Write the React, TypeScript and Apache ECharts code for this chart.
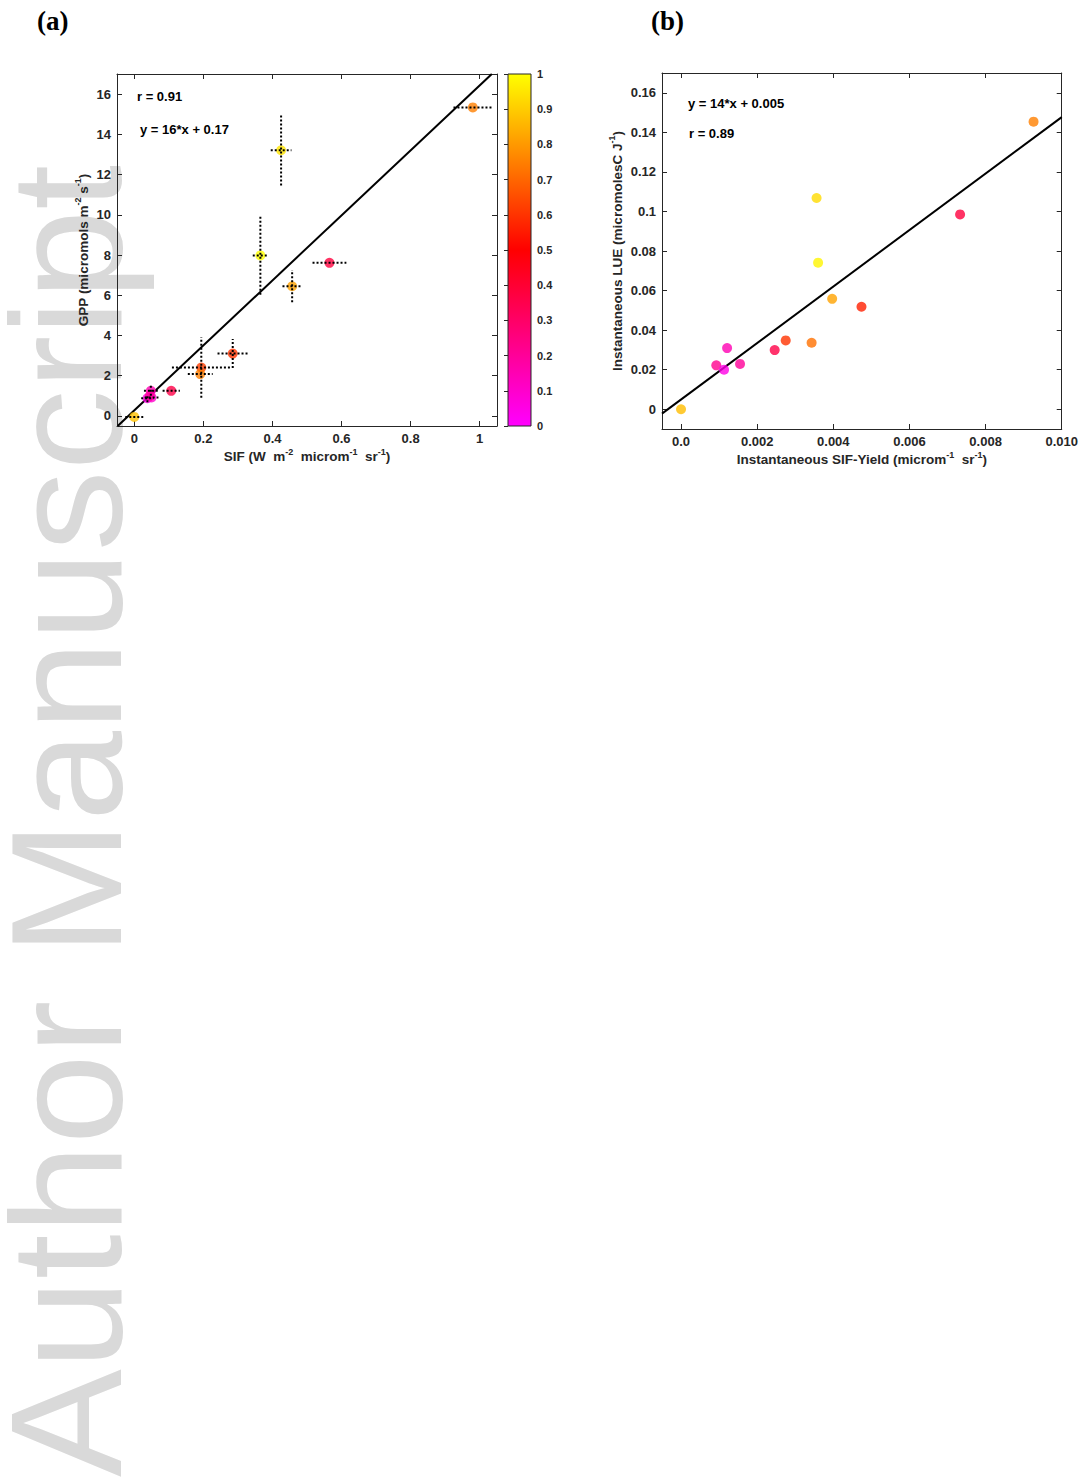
import React, { useEffect, useRef } from "react";
import * as echarts from "echarts";

// ---------- Panel (a): SIF vs GPP ----------
const sifA = [0.0, 0.048, 0.038, 0.05, 0.045, 0.107, 0.194, 0.191, 0.285, 0.365, 0.425, 0.457, 0.565, 0.98];
const gppA = [-0.05, 1.25, 0.88, 0.92, 1.0, 1.25, 2.41, 2.08, 3.1, 7.98, 13.21, 6.45, 7.61, 15.34];
const colorA = [0.88, 0.15, 0.05, 0.1, 0.2, 0.36, 0.62, 0.75, 0.6, 1.0, 0.95, 0.82, 0.38, 0.75];
const sifErrA = [0.026, 0.02, 0.018, 0.02, 0.0, 0.025, 0.085, 0.036, 0.044, 0.022, 0.03, 0.028, 0.049, 0.056];
const gppErrA = [0.0, 0.25, 0.2, 0.0, 0.0, 0.0, 1.5, 0.0, 0.72, 1.95, 1.75, 0.8, 0.0, 0.0];
const fitA = [[-0.048, -0.5], [1.035, 17]];
const xTicksA = [0, 0.2, 0.4, 0.6, 0.8, 1];
const yTicksA = [0, 2, 4, 6, 8, 10, 12, 14, 16];

// ---------- Panel (b): SIF-Yield vs LUE ----------
const yieldB = [0.0, 0.000926, 0.00113, 0.00121, 0.00155, 0.00246, 0.00275, 0.00343, 0.0036, 0.00356, 0.00397, 0.00474, 0.00733, 0.00926];
const lueB = [0.0, 0.0222, 0.02, 0.0309, 0.0229, 0.0299, 0.0348, 0.0336, 0.0741, 0.1068, 0.0558, 0.0518, 0.0985, 0.1454];
const colorB = [0.87, 0.22, 0.05, 0.15, 0.2, 0.36, 0.6, 0.72, 0.98, 0.93, 0.82, 0.56, 0.38, 0.75];
const fitB = [[-0.0005, -0.0022], [0.01, 0.1477]];
const xTicksB = [0, 0.002, 0.004, 0.006, 0.008, 0.01];
const yTicksB = [0, 0.02, 0.04, 0.06, 0.08, 0.1, 0.12, 0.14, 0.16];

// ---------- Colorbar ----------
const cbarStops = ["#ff00ff", "#ff0000", "#ffff00"];

const AX = "#262626";
const FONT = "'Liberation Sans', Arial, Helvetica, sans-serif";

const supRich = {
  sup: { fontSize: 9, fontWeight: "bold", fontFamily: FONT, color: AX, verticalAlign: "top", lineHeight: 10 },
};

function makeX(gridIndex: number, min: number, max: number, ticks: number[], position: string, showLabel: boolean, fmt?: (v: number) => string, name?: string, nameGap?: number) {
  return {
    type: "value",
    gridIndex,
    min,
    max,
    position,
    name: name || "",
    nameLocation: "middle",
    nameGap: nameGap || 0,
    nameTextStyle: { fontFamily: FONT, fontWeight: "bold", fontSize: 13.5, color: AX, lineHeight: 19, rich: supRich },
    axisLine: { show: true, onZero: false, lineStyle: { color: AX, width: 1 } },
    axisTick: { show: true, inside: true, length: 5, customValues: ticks, lineStyle: { color: AX } },
    axisLabel: {
      show: showLabel,
      customValues: ticks,
      formatter: fmt,
      color: AX,
      fontSize: 13,
      fontWeight: "bold",
      fontFamily: FONT,
      margin: 6,
    },
    splitLine: { show: false },
  };
}

const fmtA = (v: number) => String(Math.round(v * 10) / 10);
const fmtBx = (v: number) => (v === 0 ? "0.0" : v.toFixed(3));
const fmtBy = (v: number) => String(Math.round(v * 100) / 100);

export default function App() {
  const ref = useRef<HTMLDivElement>(null);
  useEffect(() => {
    document.body.style.margin = "0";
    const chart = echarts.init(ref.current!, null, { renderer: "svg" });

    const dataA = sifA.map((x, i) => [x, gppA[i], colorA[i]]);
    const errA = sifA.map((x, i) => [x, gppA[i], sifErrA[i], gppErrA[i]]);
    const dataB = yieldB.map((x, i) => [x, lueB[i], colorB[i]]);

    const option: any = {
      animation: false,
      backgroundColor: "#ffffff",
      textStyle: { fontFamily: FONT },
      grid: [
        { left: 117, top: 74, width: 380, height: 352, containLabel: false },
        { left: 662, top: 73, width: 400, height: 356, containLabel: false },
        {
          left: 508,
          top: 74,
          width: 23,
          height: 352,
          show: true,
          borderColor: AX,
          borderWidth: 1,
          backgroundColor: new echarts.graphic.LinearGradient(0, 0, 0, 1, [
            { offset: 0, color: cbarStops[2] },
            { offset: 0.5, color: cbarStops[1] },
            { offset: 1, color: cbarStops[0] },
          ]),
        },
      ],
      xAxis: [
        makeX(0, -0.05, 1.05, xTicksA, "bottom", true, fmtA,
          "SIF (W  m{sup|-2}  microm{sup|-1}  sr{sup|-1})", 21),
        makeX(0, -0.05, 1.05, xTicksA, "top", false),
        makeX(1, -0.0005, 0.01, xTicksB, "bottom", true, fmtBx,
          "Instantaneous SIF-Yield (microm{sup|-1}  sr{sup|-1})", 21),
        makeX(1, -0.0005, 0.01, xTicksB, "top", false),
        { type: "value", gridIndex: 2, min: 0, max: 1, show: false },
      ],
      yAxis: [
        makeX(0, -0.5, 17, yTicksA, "left", true, fmtA,
          "GPP (micromols m{sup|-2} s{sup|-1})", 22),
        makeX(0, -0.5, 17, yTicksA, "right", false),
        makeX(1, -0.01, 0.17, yTicksB, "left", true, fmtBy,
          "Instantaneous LUE (micromolesC J{sup|-1})", 33),
        makeX(1, -0.01, 0.17, yTicksB, "right", false),
        {
          type: "value",
          gridIndex: 2,
          min: 0,
          max: 1,
          interval: 0.1,
          position: "right",
          axisLine: { show: false },
          axisTick: { show: true, inside: true, length: 4, lineStyle: { color: AX } },
          axisLabel: {
            color: AX,
            fontSize: 11,
            fontWeight: "bold",
            fontFamily: FONT,
            margin: 6,
            formatter: (v: number) => String(Math.round(v * 10) / 10),
          },
          splitLine: { show: false },
        },
      ],
      visualMap: {
        show: false,
        type: "continuous",
        min: 0,
        max: 1,
        dimension: 2,
        seriesIndex: [1, 4],
        inRange: { color: cbarStops },
      },
      series: [
        {
          type: "line",
          xAxisIndex: 0,
          yAxisIndex: 0,
          data: fitA,
          symbol: "none",
          clip: true,
          lineStyle: { color: "#000", width: 2 },
          z: 2,
        },
        {
          type: "scatter",
          xAxisIndex: 0,
          yAxisIndex: 0,
          data: dataA,
          symbolSize: 10,
          z: 3,
        },
        {
          type: "custom",
          xAxisIndex: 0,
          yAxisIndex: 0,
          data: errA,
          encode: { x: 0, y: 1 },
          z: 4,
          renderItem: (params: any, api: any) => {
            const x = api.value(0);
            const y = api.value(1);
            const ex = api.value(2);
            const ey = api.value(3);
            const style = { stroke: "#000", lineWidth: 2, lineDash: [2, 2], fill: null };
            const children: any[] = [];
            if (ex > 0) {
              const a = api.coord([x - ex, y]);
              const b = api.coord([x + ex, y]);
              children.push({ type: "line", shape: { x1: a[0], y1: a[1], x2: b[0], y2: b[1] }, style });
            }
            if (ey > 0) {
              const a = api.coord([x, y - ey]);
              const b = api.coord([x, y + ey]);
              children.push({ type: "line", shape: { x1: a[0], y1: a[1], x2: b[0], y2: b[1] }, style });
            }
            return { type: "group", children };
          },
        },
        {
          type: "line",
          xAxisIndex: 2,
          yAxisIndex: 2,
          data: fitB,
          symbol: "none",
          clip: true,
          lineStyle: { color: "#000", width: 2 },
          z: 2,
        },
        {
          type: "scatter",
          xAxisIndex: 2,
          yAxisIndex: 2,
          data: dataB,
          symbolSize: 10,
          z: 3,
        },
      ],
      graphic: [
        {
          type: "text",
          x: 67,
          y: 1477,
          rotation: Math.PI / 2,
          scaleX: 1.03,
          z: -100,
          silent: true,
          style: {
            text: "Author Manuscript",
            fontSize: 157,
            lineHeight: 116,
            fontFamily: FONT,
            fill: "#d9d9d9",
            textAlign: "left",
            textVerticalAlign: "middle",
          },
        },
        {
          type: "text",
          x: 37,
          y: 21,
          style: { text: "(a)", font: "bold 27px 'Liberation Serif', 'Times New Roman', serif", fill: "#000", textVerticalAlign: "middle" },
        },
        {
          type: "text",
          x: 651,
          y: 21,
          style: { text: "(b)", font: "bold 27px 'Liberation Serif', 'Times New Roman', serif", fill: "#000", textVerticalAlign: "middle" },
        },
        {
          type: "text",
          x: 137,
          y: 96,
          style: { text: "r = 0.91", font: "bold 13px " + FONT, fill: "#000", textVerticalAlign: "middle" },
        },
        {
          type: "text",
          x: 140,
          y: 129,
          style: { text: "y = 16*x + 0.17", font: "bold 13px " + FONT, fill: "#000", textVerticalAlign: "middle" },
        },
        {
          type: "text",
          x: 688,
          y: 103,
          style: { text: "y = 14*x + 0.005", font: "bold 13px " + FONT, fill: "#000", textVerticalAlign: "middle" },
        },
        {
          type: "text",
          x: 689,
          y: 133,
          style: { text: "r = 0.89", font: "bold 13px " + FONT, fill: "#000", textVerticalAlign: "middle" },
        },
      ],
    };

    chart.setOption(option);
    return () => chart.dispose();
  }, []);
  return <div ref={ref} style={{ position: "absolute", left: 0, top: 0, width: 1081, height: 1477 }} />;
}
